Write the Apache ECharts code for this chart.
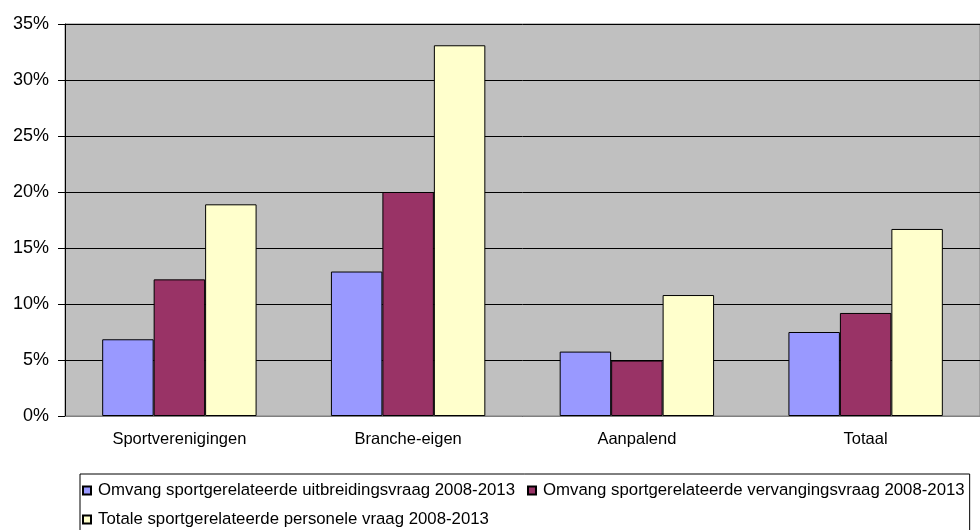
<!DOCTYPE html>
<html>
<head>
<meta charset="utf-8">
<script src="https://cdn.jsdelivr.net/npm/echarts@6/dist/echarts.min.js"></script>
<style>html,body{margin:0;padding:0;background:#fff}#c{width:980px;height:530px}</style>
</head>
<body>
<div id="c"></div>
<script>
const categories = ['Sportverenigingen', 'Branche-eigen', 'Aanpalend', 'Totaal'];
const seriesNames = [
  'Omvang sportgerelateerde uitbreidingsvraag 2008-2013',
  'Omvang sportgerelateerde vervangingsvraag 2008-2013',
  'Totale sportgerelateerde personele vraag 2008-2013'
];
const uitbreiding = [6.85, 12.9, 5.75, 7.5];
const vervanging = [12.2, 20.0, 4.95, 9.2];
const totaal = [18.9, 33.1, 10.8, 16.7];
const yTicks = [0, 5, 10, 15, 20, 25, 30, 35];

const colors = ['#9999FF', '#993366', '#FFFFCC'];
const font = 'Liberation Sans, Arial, sans-serif';
const chart = echarts.init(document.getElementById('c'), null, {renderer: 'canvas'});
const dataSets = [uitbreiding, vervanging, totaal];

chart.setOption({
  animation: false,
  backgroundColor: '#ffffff',
  textStyle: {fontFamily: font},
  grid: {left: 65, top: 24, right: 0, bottom: 114, show: true, backgroundColor: '#C0C0C0', borderColor: '#808080', borderWidth: 1},
  xAxis: {
    type: 'category',
    data: categories,
    axisLine: {lineStyle: {color: '#808080', width: 1}},
    axisTick: {show: false},
    axisLabel: {color: '#000', fontSize: 16.5, fontFamily: font, margin: 15}
  },
  yAxis: {
    type: 'value',
    min: yTicks[0],
    max: yTicks[yTicks.length - 1],
    interval: 5,
    axisLine: {show: true, lineStyle: {color: '#000', width: 1}},
    axisTick: {show: true, length: 7, lineStyle: {color: '#000'}},
    axisLabel: {color: '#000', fontSize: 18, fontFamily: font, margin: 16, formatter: v => v + '%'},
    splitLine: {show: true, lineStyle: {color: '#000', width: 1}}
  },
  legend: {
    left: 80,
    top: 474,
    width: 900,
    padding: [8, 5, 30, 2],
    itemGap: 12,
    itemWidth: 8,
    itemHeight: 8,
    icon: 'rect',
    borderColor: '#000',
    borderWidth: 1,
    backgroundColor: '#fff',
    textStyle: {color: '#000', fontSize: 16.8, fontFamily: font, lineHeight: 13, padding: [0, 0, 0, 2]},
    data: [seriesNames[0], seriesNames[1], '\n', seriesNames[2]]
  },
  series: seriesNames.map((name, i) => ({
    name: name,
    type: 'bar',
    data: dataSets[i],
    barGap: '0%',
    barCategoryGap: '32.5%',
    itemStyle: {color: colors[i], borderColor: '#000', borderWidth: 1}
  }))
});
</script>
</body>
</html>
